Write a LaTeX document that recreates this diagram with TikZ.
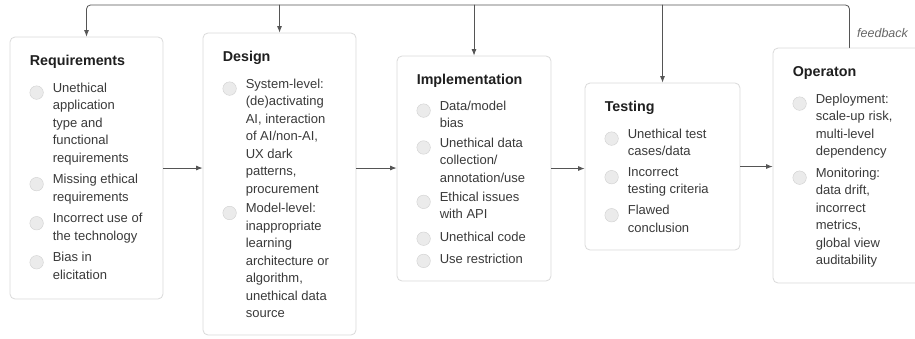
\documentclass[tikz,border=0pt]{standalone}
\usepackage{fontspec}
\setmainfont{Liberation Sans}
\usetikzlibrary{positioning,arrows.meta}
\definecolor{edgegray}{HTML}{DADADA}
\definecolor{linegray}{HTML}{555555}
\definecolor{textgray}{HTML}{3A3A3A}
\definecolor{dotgray}{HTML}{EBEBEB}
\definecolor{dotedge}{HTML}{D0D0D0}
\tikzset{
  stage/.style={draw=edgegray, fill=white, rounded corners=5pt, line width=0.8pt},
  stagetitle/.style={anchor=base west, inner sep=0pt, text=black!88,
    font=\fontsize{14.3}{17}\selectfont\bfseries},
  issue/.style={inner sep=0pt, align=left, text=textgray,
    font=\fontsize{13}{17.5}\selectfont, execute at begin node=\strut},
  bullet/.style={circle, draw=dotedge, fill=dotgray, minimum size=13.5pt, inner sep=0pt},
  flow/.style={->, draw=linegray, line width=0.8pt},
}
\begin{document}
\begin{tikzpicture}[x=1pt, y=-1pt, >={Latex[length=6.5pt,width=5pt]}, line cap=round, line join=round]
  \useasboundingbox (0,0) rectangle (915,338);
  \clip (0,0) rectangle (915,338);
  % stages
  \node[stage, minimum width=153pt, minimum height=262pt] (req) at (86.5,168) {};
  \node[stage, minimum width=153pt, minimum height=302pt] (des) at (279.5,184) {};
  \node[stage, minimum width=154pt, minimum height=225pt] (imp) at (474,168.5) {};
  \node[stage, minimum width=155pt, minimum height=167pt] (tst) at (662.5,166.5) {};
  \node[stage, minimum width=153pt, minimum height=235pt] (ops) at (849.5,165.5) {};
  % titles
  \node[stagetitle] (req-t) at ([xshift=20pt,yshift=-29pt]req.north west) {Requirements};
  \node[stagetitle] (des-t) at ([xshift=20pt,yshift=-29pt]des.north west) {Design};
  \node[stagetitle] (imp-t) at ([xshift=20pt,yshift=-29pt]imp.north west) {Implementation};
  \node[stagetitle] (tst-t) at ([xshift=20pt,yshift=-29pt]tst.north west) {Testing};
  \node[stagetitle] (ops-t) at ([xshift=20pt,yshift=-29pt]ops.north west) {Operaton};
  % requirements
  \node[issue, anchor=north west] (req1) at ([xshift=43pt,yshift=-46pt]req.north west)
    {Unethical\\application\\type and\\functional\\requirements\strut};
  \node[issue, below right=6.5pt and 0pt of req1.south west] (req2) {Missing ethical\\requirements\strut};
  \node[issue, below right=6.5pt and 0pt of req2.south west] (req3) {Incorrect use of\\the technology\strut};
  \node[issue, below right=6.5pt and 0pt of req3.south west] (req4) {Bias in\\elicitation\strut};
  % design
  \node[issue, anchor=north west] (des1) at ([xshift=43pt,yshift=-46pt]des.north west)
    {System-level:\\(de)activating\\AI, interaction\\of AI/non-AI,\\UX dark\\patterns,\\procurement\strut};
  \node[issue, below right=4.3pt and 0pt of des1.south west] (des2)
    {Model-level:\\inappropriate\\learning\\architecture or\\algorithm,\\unethical data\\source\strut};
  % implementation
  \node[issue, anchor=north west] (imp1) at ([xshift=43pt,yshift=-45pt]imp.north west) {Data/model\\bias\strut};
  \node[issue, below right=4.3pt and 0pt of imp1.south west] (imp2) {Unethical data\\collection/\\annotation/use\strut};
  \node[issue, below right=4.3pt and 0pt of imp2.south west] (imp3) {Ethical issues\\with API\strut};
  \node[issue, below right=4.3pt and 0pt of imp3.south west] (imp4) {Unethical code};
  \node[issue, below right=4.3pt and 0pt of imp4.south west] (imp5) {Use restriction};
  % testing
  \node[issue, anchor=north west] (tst1) at ([xshift=43pt,yshift=-46pt]tst.north west) {Unethical test\\cases/data\strut};
  \node[issue, below right=6pt and 0pt of tst1.south west] (tst2) {Incorrect\\testing criteria\strut};
  \node[issue, below right=6pt and 0pt of tst2.south west] (tst3) {Flawed\\conclusion\strut};
  % operation
  \node[issue, anchor=north west] (ops1) at ([xshift=43pt,yshift=-46pt]ops.north west)
    {Deployment:\\scale-up risk,\\multi-level\\dependency\strut};
  \node[issue, below right=6.5pt and 0pt of ops1.south west] (ops2)
    {Monitoring:\\data drift,\\incorrect\\metrics,\\global view\\auditability\strut};
  % bullets
  \foreach \i in {req1,req2,req3,req4,des1,des2,imp1,imp2,imp3,imp4,imp5,tst1,tst2,tst3,ops1,ops2}
    \node[bullet] (b-\i) at ([xshift=-16pt,yshift=-10pt]\i.north west) {};
  % forward flow
  \draw[flow] (req.east) -- (req.east -| des.west);
  \draw[flow] (req.east -| des.east) -- (req.east -| imp.west);
  \draw[flow] (imp.east) -- (imp.east -| tst.west);
  \draw[flow] (tst.east) -- (tst.east -| ops.west);
  % feedback loop
  \coordinate (fbtop) at (0,5);
  \draw[flow, rounded corners=4pt] (ops.north) |- (fbtop -| req.north) -- (req.north);
  \foreach \s in {des,imp,tst}
    \draw[flow] (fbtop -| \s.north) -- (\s.north);
  \node[anchor=base west, inner sep=0pt, text=black!60, font=\fontsize{12.5}{14}\selectfont\itshape] (fb) at (857,37) {feedback};
\end{tikzpicture}
\end{document}
